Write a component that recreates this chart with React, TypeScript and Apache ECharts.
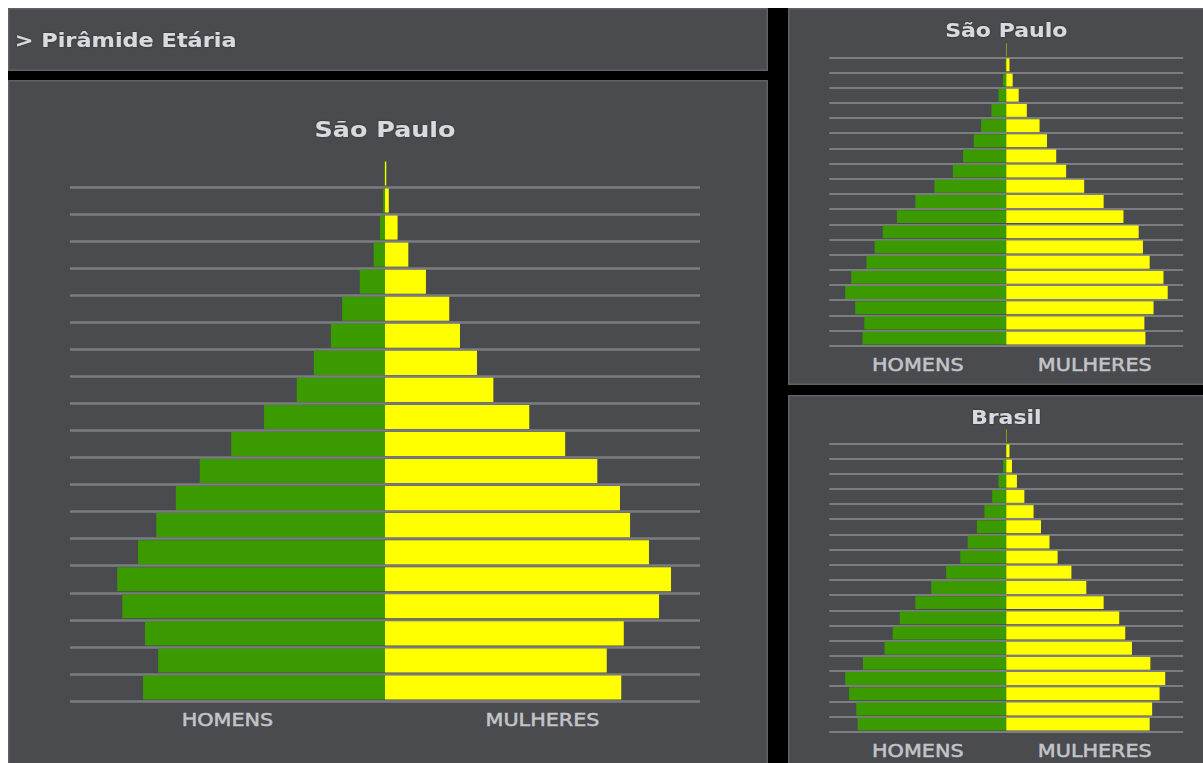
import { useEffect, useRef } from 'react';
import * as echarts from 'echarts';

// Age groups, youngest first (bottom of the pyramid)
const ageGroups = [
  '0-4', '5-9', '10-14', '15-19', '20-24', '25-29', '30-34', '35-39', '40-44', '45-49',
  '50-54', '55-59', '60-64', '65-69', '70-74', '75-79', '80-84', '85-89', '90-94', '95+',
];
const sideLabels = ['HOMENS', 'MULHERES'];

// Main chart: São Paulo (% of population)
const spMainMen = [3.84, 3.6, 3.81, 4.17, 4.25, 3.92, 3.63, 3.32, 2.94, 2.44, 1.92, 1.4, 1.13, 0.86, 0.68, 0.4, 0.18, 0.08, 0.03, 0.01];
const spMainWomen = [3.75, 3.52, 3.79, 4.35, 4.54, 4.19, 3.89, 3.73, 3.37, 2.86, 2.29, 1.72, 1.46, 1.19, 1.02, 0.65, 0.37, 0.2, 0.06, 0.02];

// Small chart: São Paulo
const spMen = [4.06, 4.01, 4.27, 4.55, 4.38, 3.95, 3.72, 3.49, 3.09, 2.57, 2.03, 1.51, 1.22, 0.92, 0.71, 0.42, 0.22, 0.09, 0.02, 0.01];
const spWomen = [3.93, 3.9, 4.16, 4.56, 4.44, 4.05, 3.86, 3.74, 3.31, 2.75, 2.2, 1.69, 1.41, 1.15, 0.94, 0.58, 0.35, 0.18, 0.09, 0.01];

// Small chart: Brasil
const brMen = [4.2, 4.24, 4.44, 4.55, 4.05, 3.44, 3.21, 3.01, 2.57, 2.12, 1.7, 1.3, 1.09, 0.83, 0.62, 0.4, 0.22, 0.09, 0.01, 0.01];
const brWomen = [4.05, 4.12, 4.33, 4.49, 4.07, 3.55, 3.36, 3.19, 2.75, 2.26, 1.84, 1.45, 1.22, 0.98, 0.77, 0.51, 0.3, 0.16, 0.09, 0.01];

const axisMax = 5;

const W = 1195;
const H = 755;

const PANEL_FILL = '#4a4b4f';
const PANEL_STROKE = '#606165';
const GREEN = '#3a9a00';
const YELLOW = '#ffff00';
const TITLE_COLOR = '#d8dadf';
const LABEL_COLOR = '#c2c4c8';
const FONT = '"DejaVu Sans", Verdana, sans-serif';

export default function App() {
  const ref = useRef<HTMLDivElement>(null);

  useEffect(() => {
    if (!ref.current) return;
    const chart = echarts.init(ref.current, undefined, { renderer: 'svg' });

    const charts = [
      { title: 'São Paulo', men: spMainMen, women: spMainWomen, grid: { left: 62, top: 151.95, width: 630, height: 541.05 }, titleSize: 21, titleScale: 1.21, titleDy: -58, gap: '11%', lineW: 2.5 },
      { title: 'São Paulo', men: spMen, women: spWomen, grid: { left: 821.3, top: 34.1, width: 354, height: 303.6 }, titleSize: 19, titleScale: 1.16, titleDy: -27, gap: '15%', lineW: 2 },
      { title: 'Brasil', men: brMen, women: brWomen, grid: { left: 821.3, top: 420.1, width: 354, height: 303.6 }, titleSize: 19, titleScale: 1.16, titleDy: -26, gap: '15%', lineW: 2 },
    ];

    const panels = [
      { x: 0, y: 0, width: 760, height: 63 },
      { x: 0, y: 72, width: 760, height: 700 },
      { x: 780, y: 0, width: 430, height: 377 },
      { x: 780, y: 387, width: 430, height: 400 },
    ];

    const graphics: any[] = [];
    panels.forEach((p) => {
      graphics.push({
        type: 'rect',
        z: -10,
        shape: { x: p.x + 0.75, y: p.y + 0.75, width: p.width - 1.5, height: p.height - 1.5 },
        style: { fill: PANEL_FILL, stroke: PANEL_STROKE, lineWidth: 1.5 },
      });
    });

    graphics.push({
      type: 'text',
      z: 10,
      x: 6.7,
      y: 33,
      scaleX: 1.18,
      style: {
        text: '> Pirâmide Etária',
        fill: TITLE_COLOR,
        font: `bold 19px ${FONT}`,
        align: 'left',
        verticalAlign: 'middle',
        textShadowColor: 'rgba(0,0,0,0.45)',
        textShadowBlur: 2,
      },
    });

    charts.forEach((c) => {
      const g = c.grid;
      const lineTop = g.top + g.height / ageGroups.length;
      graphics.push({
        type: 'text',
        z: 10,
        x: g.left + g.width / 2,
        y: lineTop + c.titleDy,
        scaleX: c.titleScale,
        style: {
          text: c.title,
          fill: TITLE_COLOR,
          font: `bold ${c.titleSize}px ${FONT}`,
          align: 'center',
          verticalAlign: 'middle',
          textShadowColor: 'rgba(0,0,0,0.45)',
          textShadowBlur: 2,
        },
      });
      sideLabels.forEach((lab, j) => {
        graphics.push({
          type: 'text',
          z: 10,
          x: g.left + (g.width * (2 * j + 1)) / 4,
          y: g.top + g.height + 19,
          scaleX: 1.22,
          style: {
            text: lab,
            fill: LABEL_COLOR,
            stroke: LABEL_COLOR,
            lineWidth: 0.5,
            font: `17px ${FONT}`,
            align: 'center',
            verticalAlign: 'middle',
          },
        });
      });
    });

    const option: any = {
      animation: false,
      backgroundColor: '#000000',
      grid: charts.map((c) => ({ ...c.grid, containLabel: false })),
      xAxis: charts.map((_, i) => ({
        type: 'value',
        gridIndex: i,
        min: -axisMax,
        max: axisMax,
        show: false,
      })),
      yAxis: charts.map((c, i) => ({
        type: 'category',
        gridIndex: i,
        data: ageGroups,
        boundaryGap: true,
        axisLine: { show: false },
        axisTick: { show: false, interval: 0 },
        axisLabel: { show: false, interval: 0 },
        splitLine: {
          show: true,
          interval: 0,
          showMaxLine: false,
          lineStyle: { color: '#7c7d80', width: c.lineW },
        },
      })),
      series: charts.flatMap((c, i) => [
        {
          name: 'Homens',
          type: 'bar',
          xAxisIndex: i,
          yAxisIndex: i,
          data: c.men.map((v) => -v),
          barCategoryGap: c.gap,
          barGap: '-100%',
          itemStyle: { color: GREEN },
          silent: true,
        },
        {
          name: 'Mulheres',
          type: 'bar',
          xAxisIndex: i,
          yAxisIndex: i,
          data: c.women,
          barCategoryGap: c.gap,
          barGap: '-100%',
          itemStyle: { color: YELLOW },
          silent: true,
        },
      ]),
      graphic: graphics,
    };

    chart.setOption(option);
    return () => chart.dispose();
  }, []);

  return (
    <div
      ref={ref}
      style={{ position: 'absolute', left: 8, top: 8, width: W, height: H }}
    />
  );
}
